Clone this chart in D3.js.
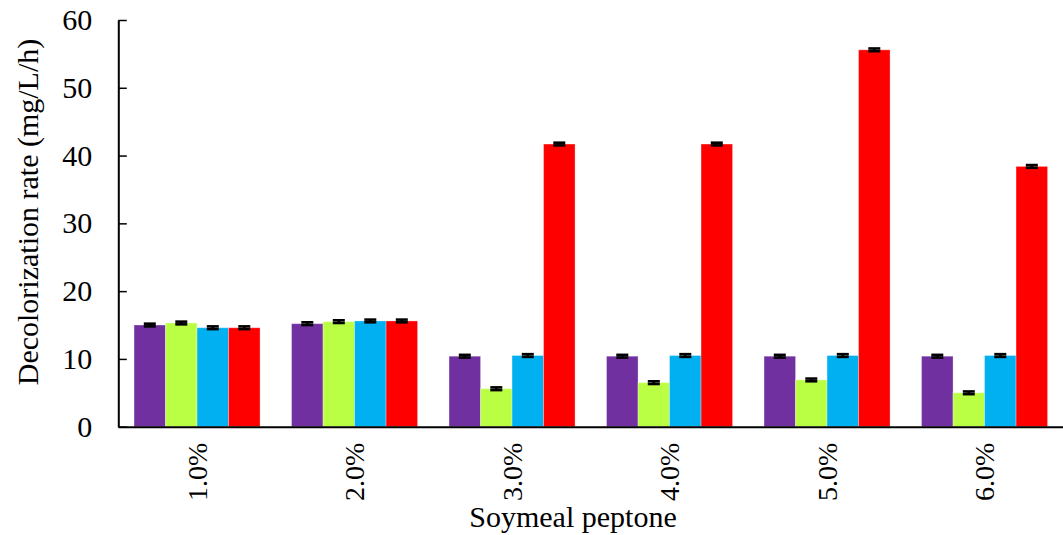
<!DOCTYPE html>
<html>
<head>
<meta charset="utf-8">
<script src="https://cdn.jsdelivr.net/npm/d3@7"></script>
<style>
  body { margin: 0; background: #fff; }
  svg { display: block; font-family: "Liberation Serif", "Times New Roman", serif; }
</style>
</head>
<body>
<svg width="1063" height="535"></svg>
<script>
// soymeal peptone concentrations
const categories = ["1.0%", "2.0%", "3.0%", "4.0%", "5.0%", "6.0%"];
const seriesNames = ["s1", "s2", "s3", "s4"];
const seriesColors = ["#7030A0", "#BBFF44", "#00B0F0", "#FF0000"];

// decolorization rate (mg/L/h) per series
const purple = [15.0, 15.2, 10.4, 10.4, 10.4, 10.4];
const green = [15.3, 15.5, 5.6, 6.5, 6.9, 5.0];
const blue = [14.6, 15.6, 10.5, 10.5, 10.5, 10.5];
const red = [14.6, 15.6, 41.7, 41.7, 55.6, 38.4];
const errors = [0.2, 0.2, 0.2, 0.2];

const yTicks = [0, 10, 20, 30, 40, 50, 60];

const seriesValues = [purple, green, blue, red];

let svg = d3.select("svg");

var x0 = d3.scaleBand()
  .domain(categories)
  .range([118.3, 1063.3])
  .paddingInner(0.2)
  .paddingOuter(0.1);

var x1 = d3.scaleBand()
  .domain(seriesNames)
  .range([0, x0.bandwidth()]);

var y = d3.scaleLinear().domain([0, 60]).range([426.7, 20]);

// table of rows for drawing
const rows = [];
categories.forEach((c, i) => {
  seriesNames.forEach((s, j) => {
    rows.push({ cat: c, series: s, value: seriesValues[j][i], err: errors[j], color: seriesColors[j] });
  });
});

var bars = svg.append("g")
  .selectAll("rect")
  .data(rows)
  .enter()
  .append("rect")
  .attr("x", d => x0(d.cat) + x1(d.series))
  .attr("y", d => y(d.value))
  .attr("width", x1.bandwidth())
  .attr("height", d => y(0) - y(d.value))
  .attr("fill", d => d.color)
  .attr("stroke", "#fff")
  .attr("stroke-opacity", 0.3)
  .attr("stroke-width", 1);

// error bars
var eb = svg.append("g")
  .selectAll("g")
  .data(rows)
  .enter()
  .append("g")
  .attr("stroke", "#000")
  .attr("stroke-width", 2.6);

const cx = d => x0(d.cat) + x1(d.series) + x1.bandwidth() / 2;
eb.append("line")
  .attr("x1", cx).attr("x2", cx)
  .attr("y1", d => y(d.value - d.err)).attr("y2", d => y(d.value + d.err));
eb.append("line")
  .attr("x1", d => cx(d) - 6).attr("x2", d => cx(d) + 6)
  .attr("y1", d => y(d.value + d.err)).attr("y2", d => y(d.value + d.err));
eb.append("line")
  .attr("x1", d => cx(d) - 6).attr("x2", d => cx(d) + 6)
  .attr("y1", d => y(d.value - d.err)).attr("y2", d => y(d.value - d.err));

// y axis
var yAxis = svg.append("g")
  .attr("transform", "translate(118.3,0)")
  .call(d3.axisLeft(y).tickValues(yTicks).tickSizeInner(-8.5).tickSizeOuter(0).tickPadding(26));
yAxis.select(".domain").attr("stroke-width", 2);
yAxis.selectAll(".tick line").attr("stroke-width", 1.5);
yAxis.selectAll(".tick text")
  .attr("font-size", 30)
  .attr("font-family", "Liberation Serif")
  .attr("fill", "#000");

// x axis
var xAxis = svg.append("g")
  .attr("transform", "translate(0,426.7)")
  .call(d3.axisBottom(x0).tickSize(0).tickSizeOuter(0));
xAxis.select(".domain").attr("stroke-width", 2);
xAxis.selectAll(".tick text")
  .attr("font-size", 28)
  .attr("font-family", "Liberation Serif")
  .attr("fill", "#000")
  .attr("text-anchor", "end")
  .attr("transform", "rotate(-90)")
  .attr("x", -16)
  .attr("y", 0)
  .attr("dy", "0.35em");

// axis titles
svg.append("text")
  .attr("transform", "translate(27,212) rotate(-90)")
  .attr("text-anchor", "middle")
  .attr("dy", "0.35em")
  .attr("font-size", 30)
  .text("Decolorization rate (mg/L/h)");

svg.append("text")
  .attr("x", 573)
  .attr("y", 527)
  .attr("text-anchor", "middle")
  .attr("font-size", 30)
  .text("Soymeal peptone");
</script>
</body>
</html>
